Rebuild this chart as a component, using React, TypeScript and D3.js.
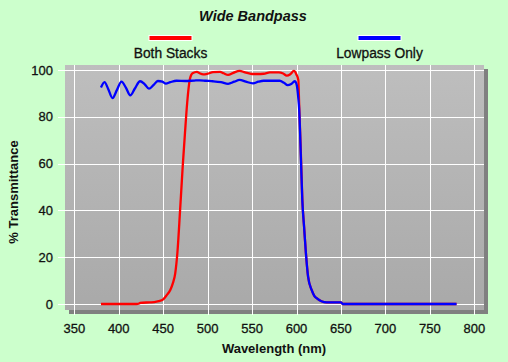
import { useEffect, useRef } from "react";
import * as d3 from "d3";

// wavelength (nm) / % transmittance
const bothWl = [380, 420, 423, 424, 435, 440, 445, 450, 454, 458, 461, 463.5, 466, 469, 472, 474.5, 477, 480, 483, 488, 491, 495, 500, 506, 514, 518, 523, 529, 536, 542, 550, 556, 563, 570, 580, 585, 589, 593, 597, 600, 602, 603, 605, 606.5, 608.5, 610.5, 613, 617, 620, 623, 628, 634, 650, 652, 780];
const bothT = [0, 0, 0.2, 0.5, 0.7, 0.8, 1.2, 2, 3.8, 6, 9, 13, 22, 40, 59, 73, 86, 96, 98.6, 99.2, 98.6, 98.1, 98.4, 99.1, 99.2, 98.6, 97.9, 98.8, 99.6, 99, 98.3, 98.3, 98.4, 99, 99, 98.5, 97.6, 98.2, 99.6, 98, 95.7, 85, 63, 45, 33, 22, 11.7, 6, 3.5, 2.4, 1.2, 0.7, 0.7, 0, 0];

const lowWl = [380, 384, 388, 393, 398, 403, 408, 413, 418, 424, 429, 434, 439, 444, 449, 453, 458, 465, 475, 485, 491, 498, 506, 515, 523, 530, 536, 543, 551, 557, 563, 570, 581, 586, 590, 594, 598, 600, 602, 603, 605, 606.5, 608.5, 610.5, 613, 617, 620, 623, 628, 634, 650, 652, 700, 780];
const lowT = [92.5, 94.8, 92, 88, 91.5, 95, 92.5, 89.2, 92, 95.2, 94, 92, 93.5, 95.3, 95, 94.2, 94.8, 95.4, 95.3, 95.5, 95.6, 95.4, 95.2, 94.8, 94.1, 95, 95.8, 95, 94.3, 95, 95.4, 95.4, 95.4, 94.5, 93.5, 94, 95.2, 94, 88, 83, 61.5, 44.4, 33, 22, 11.7, 6, 3.5, 2.4, 1.2, 0.7, 0.7, 0, 0, 0];

const xTicks = [350, 400, 450, 500, 550, 600, 650, 700, 750, 800];
const yTicks = [0, 20, 40, 60, 80, 100];

const seriesNames = ["Both Stacks", "Lowpass Only"];
const seriesColors = ["#ff0000", "#0000ff"];

const W = 508;
const H = 362;
const font = "Arial, 'Liberation Sans', sans-serif";
const ink = "#111";

export default function App() {
  const ref = useRef<SVGSVGElement>(null);

  useEffect(() => {
    const svg = d3.select(ref.current);
    svg.selectAll("*").remove();

    svg.append("rect").attr("width", W).attr("height", H).attr("fill", "#ccffcc");

    const plot = { left: 65, top: 65, right: 484, bottom: 310 };
    const x = d3.scaleLinear().domain([350, 800]).range([74.3, 474.3]);
    const y = d3.scaleLinear().domain([0, 100]).range([304, 70]);

    const grad = svg.append("defs").append("linearGradient")
      .attr("id", "plotBg").attr("x1", 0).attr("y1", 0).attr("x2", 0).attr("y2", 1);
    grad.append("stop").attr("offset", "0%").attr("stop-color", "#bebebe");
    grad.append("stop").attr("offset", "100%").attr("stop-color", "#a9a9a9");

    // shadow then plot area
    svg.append("rect")
      .attr("x", plot.left + 4).attr("y", plot.top + 4)
      .attr("width", plot.right - plot.left).attr("height", plot.bottom - plot.top)
      .attr("fill", "#808080");
    svg.append("rect")
      .attr("x", plot.left).attr("y", plot.top)
      .attr("width", plot.right - plot.left).attr("height", plot.bottom - plot.top)
      .attr("fill", "url(#plotBg)");

    // grid
    svg.append("g").selectAll("line").data(yTicks).join("line")
      .attr("x1", 58).attr("x2", plot.right)
      .attr("y1", (d) => Math.round(y(d)) + 0.5).attr("y2", (d) => Math.round(y(d)) + 0.5)
      .attr("stroke", "#ffffff").attr("stroke-width", 1);
    svg.append("g").selectAll("line").data(xTicks).join("line")
      .attr("x1", (d) => Math.round(x(d)) + 0.5).attr("x2", (d) => Math.round(x(d)) + 0.5)
      .attr("y1", plot.top).attr("y2", 315)
      .attr("stroke", "#ffffff").attr("stroke-width", 1);

    // tick labels
    svg.append("g").selectAll("text").data(yTicks).join("text")
      .attr("x", 53).attr("y", (d) => y(d) + 4.5)
      .attr("text-anchor", "end")
      .attr("font-family", font).attr("font-size", 13).attr("fill", ink)
      .attr("stroke", ink).attr("stroke-width", 0.3)
      .text((d) => d);
    svg.append("g").selectAll("text").data(xTicks).join("text")
      .attr("x", (d) => x(d)).attr("y", 333)
      .attr("text-anchor", "middle")
      .attr("font-family", font).attr("font-size", 13).attr("fill", ink)
      .attr("stroke", ink).attr("stroke-width", 0.3)
      .text((d) => d);

    // axis titles
    svg.append("text")
      .attr("x", 274).attr("y", 353).attr("text-anchor", "middle")
      .attr("font-family", font).attr("font-size", 13).attr("font-weight", "bold").attr("fill", ink)
      .text("Wavelength (nm)");
    svg.append("text")
      .attr("transform", "translate(18,192) rotate(-90)").attr("text-anchor", "middle")
      .attr("font-family", font).attr("font-size", 13).attr("font-weight", "bold").attr("fill", ink)
      .text("% Transmittance");

    // title
    svg.append("text")
      .attr("x", 253).attr("y", 21).attr("text-anchor", "middle")
      .attr("font-family", font).attr("font-size", 14.5).attr("font-weight", "bold")
      .attr("font-style", "italic").attr("fill", ink)
      .text("Wide Bandpass");

    // legend
    const legendX = [170.5, 379.5];
    seriesNames.forEach((name, i) => {
      svg.append("rect")
        .attr("x", legendX[i] - 21.5).attr("y", 35.5).attr("width", 43).attr("height", 5)
        .attr("fill", seriesColors[i]).attr("stroke", "#ffffff").attr("stroke-width", 1);
      svg.append("text")
        .attr("x", legendX[i]).attr("y", 58).attr("text-anchor", "middle")
        .attr("font-family", font).attr("font-size", 13.8).attr("fill", ink)
        .attr("stroke", ink).attr("stroke-width", 0.3)
        .text(name);
    });

    // lines
    const line = d3.line<[number, number]>()
      .x((d) => x(d[0])).y((d) => y(d[1]))
      .curve(d3.curveMonotoneX);
    const both = bothWl.map((w, i) => [w, bothT[i]] as [number, number]);
    const low = lowWl.map((w, i) => [w, lowT[i]] as [number, number]);
    [both, low].forEach((data, i) => {
      svg.append("path")
        .datum(data)
        .attr("d", line)
        .attr("fill", "none")
        .attr("stroke", seriesColors[i])
        .attr("stroke-width", 2.3)
        .attr("stroke-linejoin", "round");
    });
  }, []);

  return (
    <svg
      ref={ref}
      width={W}
      height={H}
      style={{ position: "absolute", left: 0, top: 0, display: "block" }}
    />
  );
}
